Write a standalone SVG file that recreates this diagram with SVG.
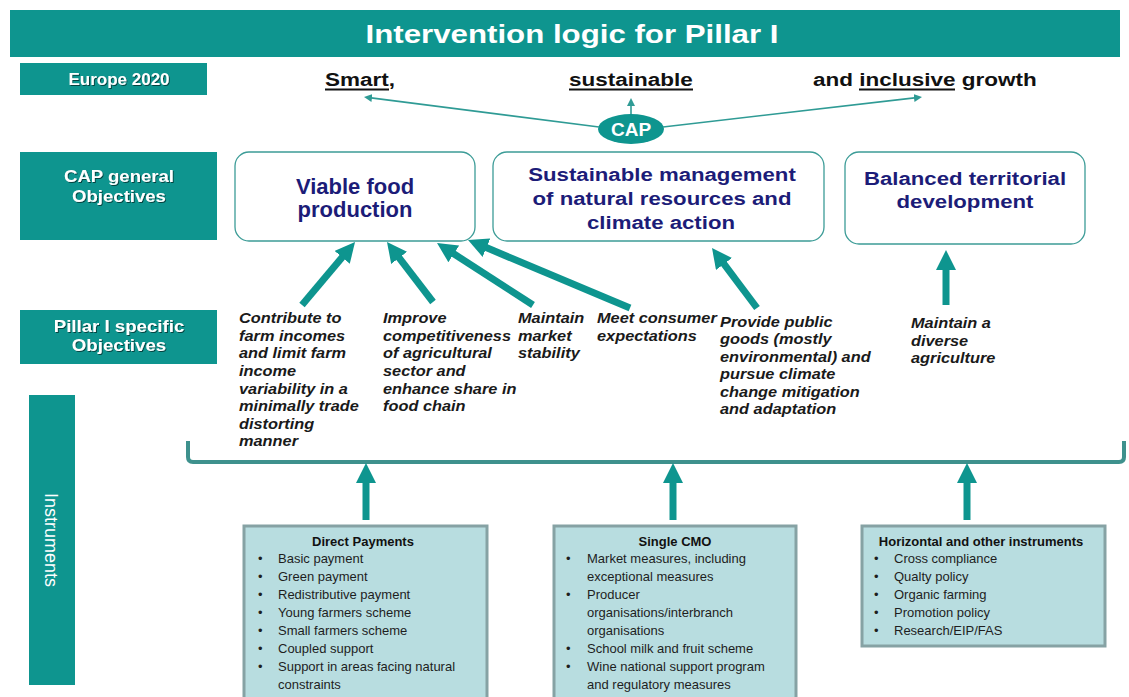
<svg xmlns="http://www.w3.org/2000/svg" width="1129" height="697" viewBox="0 0 1129 697">
<defs>
<style>
.teal{fill:#0e958f}
.lbl{font-family:"Liberation Sans",Arial,sans-serif;font-weight:bold;fill:#fff;text-anchor:middle}
.head{font-family:"Liberation Sans",Arial,sans-serif;font-weight:bold;fill:#111}
.goal{font-family:"Liberation Sans",Arial,sans-serif;font-weight:bold;fill:#1c1c78;text-anchor:middle}
.gbox{fill:#fff;stroke:#3c9c97;stroke-width:1.3}
.obj{font-family:"Liberation Sans",Arial,sans-serif;font-weight:bold;font-style:italic;font-size:15px;fill:#1a1a1a}
.ibox{fill:#b8dde0;stroke:#86a2a4;stroke-width:3}
.it{font-family:"Liberation Sans",Arial,sans-serif;font-size:13px;fill:#1e1e1e}
.ith{font-family:"Liberation Sans",Arial,sans-serif;font-size:13px;font-weight:bold;fill:#111;text-anchor:middle}
.big{stroke:#0e958f;stroke-width:7;fill:none}
.thin{stroke:#2f9b95;stroke-width:1.6;fill:none}
</style>
<marker id="ah" markerUnits="userSpaceOnUse" viewBox="0 0 20 20" markerWidth="20" markerHeight="20" refX="8" refY="10" orient="auto"><path d="M0,0 L20,10 L0,20 z" fill="#0e958f"/></marker>
<marker id="sh" markerUnits="userSpaceOnUse" viewBox="0 0 10 10" markerWidth="8" markerHeight="8" refX="6" refY="5" orient="auto"><path d="M0,0 L10,5 L0,10 z" fill="#2f9b95"/></marker>
<filter id="ds" x="-10%" y="-20%" width="120%" height="150%"><feDropShadow dx="1" dy="1" stdDeviation="0.4" flood-color="#000" flood-opacity="0.55"/></filter>
</defs>
<rect width="1129" height="697" fill="#fff"/>

<g id="title">
<rect x="10" y="10" width="1110" height="47" class="teal"/>
<text class="lbl" font-size="25" transform="translate(572,43) scale(1.25,1)">Intervention logic for Pillar I</text>
</g>

<g id="europe2020">
<rect x="20" y="63" width="187" height="32" class="teal"/>
<text class="lbl" font-size="17" x="119" y="85" filter="url(#ds)">Europe 2020</text>
</g>

<g id="growth">
<text class="head" font-size="18" transform="translate(325,86) scale(1.25,1)">Smart,</text>
<text class="head" font-size="18" transform="translate(569,86) scale(1.25,1)">sustainable</text>
<text class="head" font-size="18" transform="translate(813,86) scale(1.25,1)">and inclusive growth</text>
<g stroke="#111" stroke-width="2">
<line x1="325" y1="89.5" x2="389" y2="89.5"/>
<line x1="569" y1="89.5" x2="693" y2="89.5"/>
<line x1="859" y1="89.5" x2="955" y2="89.5"/>
</g>
</g>

<g id="cap">
<ellipse cx="631" cy="129" rx="33" ry="15" class="teal"/>
<text class="lbl" font-size="19" x="631" y="136">CAP</text>
</g>

<g id="cap-general">
<rect x="20" y="152" width="197" height="88" class="teal"/>
<g filter="url(#ds)">
<text class="lbl" font-size="16" transform="translate(119,182) scale(1.16,1)">CAP general</text>
<text class="lbl" font-size="16" transform="translate(119,202) scale(1.16,1)">Objectives</text>
</g>
</g>

<g id="viable">
<rect x="235" y="152" width="240" height="89" rx="14" class="gbox"/>
<text class="goal" font-size="22" x="355" y="194">Viable food</text>
<text class="goal" font-size="22" x="355" y="217">production</text>
</g>

<g id="sustainable">
<rect x="493" y="152" width="331" height="89" rx="14" class="gbox"/>
<text class="goal" font-size="18.5" transform="translate(662,181) scale(1.2,1)">Sustainable management</text>
<text class="goal" font-size="18.5" transform="translate(662,205) scale(1.2,1)">of natural resources and</text>
<text class="goal" font-size="18.5" transform="translate(661,229) scale(1.2,1)">climate action</text>
</g>

<g id="balanced">
<rect x="845" y="152" width="240" height="92" rx="14" class="gbox"/>
<text class="goal" font-size="18.5" transform="translate(965,185) scale(1.2,1)">Balanced territorial</text>
<text class="goal" font-size="18.5" transform="translate(965,208) scale(1.2,1)">development</text>
</g>

<g id="pillar-specific">
<rect x="20" y="310" width="197" height="54" class="teal"/>
<g filter="url(#ds)">
<text class="lbl" font-size="16.5" transform="translate(119,332) scale(1.13,1)">Pillar I specific</text>
<text class="lbl" font-size="16.5" transform="translate(119,351) scale(1.13,1)">Objectives</text>
</g>
</g>

<g id="obj1">
<text class="obj" transform="translate(239,323.3) scale(1.09,1)"><tspan x="0" y="0">Contribute to</tspan><tspan x="0" dy="17.6">farm incomes</tspan><tspan x="0" dy="17.6">and limit farm</tspan><tspan x="0" dy="17.6">income</tspan><tspan x="0" dy="17.6">variability in a</tspan><tspan x="0" dy="17.6">minimally trade</tspan><tspan x="0" dy="17.6">distorting</tspan><tspan x="0" dy="17.6">manner</tspan></text>
</g>
<g id="obj2">
<text class="obj" transform="translate(383,323.3) scale(1.09,1)"><tspan x="0" y="0">Improve</tspan><tspan x="0" dy="17.6">competitiveness</tspan><tspan x="0" dy="17.6">of agricultural</tspan><tspan x="0" dy="17.6">sector and</tspan><tspan x="0" dy="17.6">enhance share in</tspan><tspan x="0" dy="17.6">food chain</tspan></text>
</g>
<g id="obj3">
<text class="obj" transform="translate(518,323.3) scale(1.09,1)"><tspan x="0" y="0">Maintain</tspan><tspan x="0" dy="17.6">market</tspan><tspan x="0" dy="17.6">stability</tspan></text>
</g>
<g id="obj4">
<text class="obj" transform="translate(597,323.3) scale(1.09,1)"><tspan x="0" y="0">Meet consumer</tspan><tspan x="0" dy="17.6">expectations</tspan></text>
</g>
<g id="obj5">
<text class="obj" transform="translate(720,326.5) scale(1.09,1)"><tspan x="0" y="0">Provide public</tspan><tspan x="0" dy="17.6">goods  (mostly</tspan><tspan x="0" dy="17.6">environmental) and</tspan><tspan x="0" dy="17.6">pursue climate</tspan><tspan x="0" dy="17.6">change mitigation</tspan><tspan x="0" dy="17.6">and adaptation</tspan></text>
</g>
<g id="obj6">
<text class="obj" transform="translate(911,328) scale(1.09,1)"><tspan x="0" y="0">Maintain a</tspan><tspan x="0" dy="17.6">diverse</tspan><tspan x="0" dy="17.6">agriculture</tspan></text>
</g>

<g id="instruments-label">
<rect x="29" y="395" width="46" height="290" class="teal"/>
<text font-family="Liberation Sans, Arial, sans-serif" font-size="18" fill="#fff" text-anchor="middle" transform="translate(45,540) rotate(90)">Instruments</text>
</g>

<g id="direct-payments">
<rect x="244" y="526" width="243" height="180" class="ibox"/>
<text class="ith" x="363" y="545.5">Direct  Payments</text>
<g class="it">
<text x="258" y="562.5">•</text><text x="278" y="562.5">Basic payment</text>
<text x="258" y="580.5">•</text><text x="278" y="580.5">Green payment</text>
<text x="258" y="598.5">•</text><text x="278" y="598.5">Redistributive  payment</text>
<text x="258" y="616.5">•</text><text x="278" y="616.5">Young farmers scheme</text>
<text x="258" y="634.5">•</text><text x="278" y="634.5">Small farmers scheme</text>
<text x="258" y="652.5">•</text><text x="278" y="652.5">Coupled  support</text>
<text x="258" y="671">•</text><text x="278" y="671">Support in areas facing natural</text>
<text x="278" y="689">constraints</text>
</g>
</g>

<g id="single-cmo">
<rect x="554" y="526" width="242" height="180" class="ibox"/>
<text class="ith" x="675" y="545.5">Single CMO</text>
<g class="it">
<text x="566" y="562.5">•</text><text x="587" y="562.5">Market measures, including</text>
<text x="587" y="580.5">exceptional  measures</text>
<text x="566" y="598.5">•</text><text x="587" y="598.5">Producer</text>
<text x="587" y="616.5">organisations/interbranch</text>
<text x="587" y="634.5">organisations</text>
<text x="566" y="652.5">•</text><text x="587" y="652.5">School milk and fruit  scheme</text>
<text x="566" y="671">•</text><text x="587" y="671">Wine national  support program</text>
<text x="587" y="689">and regulatory  measures</text>
</g>
</g>

<g id="horizontal">
<rect x="862" y="526" width="243" height="120" class="ibox"/>
<text class="ith" x="981" y="545.5">Horizontal and other instruments</text>
<g class="it">
<text x="874" y="562.5">•</text><text x="894" y="562.5">Cross compliance</text>
<text x="874" y="580.5">•</text><text x="894" y="580.5">Qualty policy</text>
<text x="874" y="598.5">•</text><text x="894" y="598.5">Organic farming</text>
<text x="874" y="616.5">•</text><text x="894" y="616.5">Promotion policy</text>
<text x="874" y="634.5">•</text><text x="894" y="634.5">Research/EIP/FAS</text>
</g>
</g>

<g id="connectors">
<line class="thin" x1="599" y1="127" x2="367.2" y2="97.4" marker-end="url(#sh)"/>
<line class="thin" x1="631" y1="114" x2="631" y2="101.2" marker-end="url(#sh)"/>
<line class="thin" x1="663" y1="127" x2="918.8" y2="97.4" marker-end="url(#sh)"/>
<line class="big" x1="302" y1="305" x2="347.3" y2="251.2" marker-end="url(#ah)"/>
<line class="big" x1="433" y1="302" x2="394.3" y2="251.5" marker-end="url(#ah)"/>
<line class="big" x1="533" y1="305" x2="447.1" y2="249.5" marker-end="url(#ah)"/>
<line class="big" x1="630" y1="308" x2="479.1" y2="244.6" marker-end="url(#ah)"/>
<line class="big" x1="757" y1="308" x2="719.2" y2="257.6" marker-end="url(#ah)"/>
<line class="big" x1="946" y1="305" x2="946" y2="262" marker-end="url(#ah)"/>
<path d="M188,441 V457 Q188,462 193,462 H1119 Q1124,462 1124,457 V441" fill="none" stroke="#3e918d" stroke-width="4"/>
<line class="big" x1="366" y1="520" x2="366" y2="475" marker-end="url(#ah)"/>
<line class="big" x1="673" y1="520" x2="673" y2="475" marker-end="url(#ah)"/>
<line class="big" x1="967" y1="520" x2="967" y2="475" marker-end="url(#ah)"/>
</g>
</svg>
